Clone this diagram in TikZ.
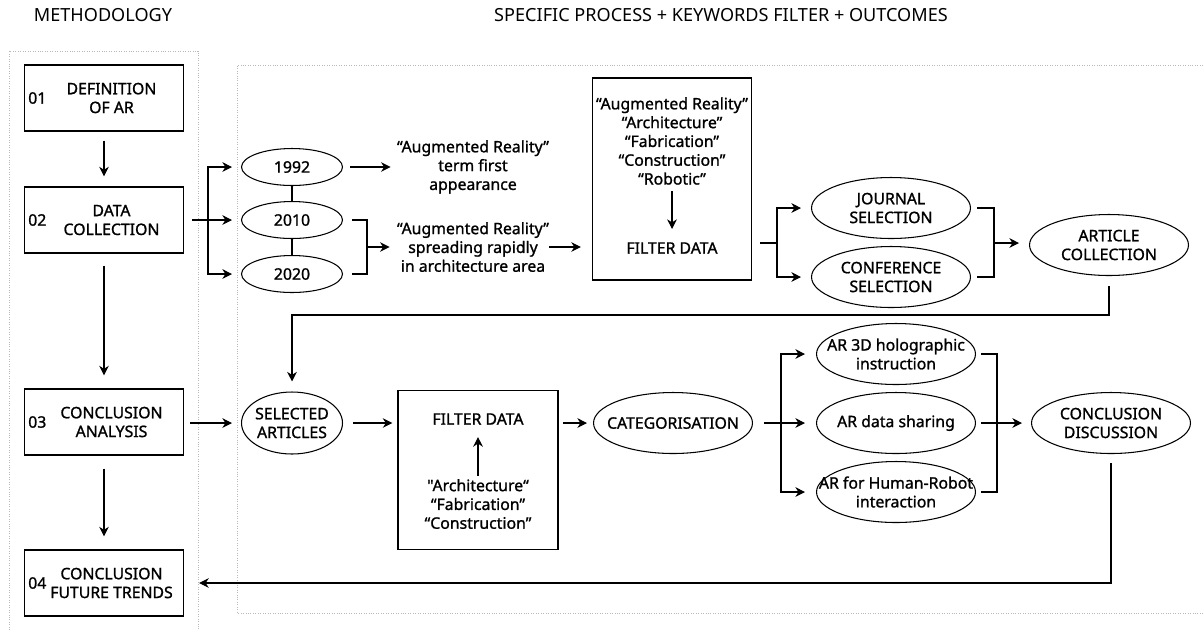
\documentclass[tikz,border=0pt]{standalone}
\usepackage{fontspec}
\setmainfont{Noto Sans}
\newfontfamily\labelfont{Noto Sans}[FakeBold=1.2]
\usetikzlibrary{calc, arrows.meta, shapes.geometric}

\tikzset{
  stepbox/.style={draw, line width=0.7pt, minimum width=3.18cm, minimum height=1.32cm, inner sep=0pt},
  oval/.style={draw, ellipse, line width=0.6pt, minimum width=3.18cm, minimum height=1.22cm, inner sep=0pt},
  yearoval/.style={oval, minimum width=2.02cm, minimum height=0.74cm},
  txt/.style={align=center, inner sep=0pt, font=\labelfont\fontsize{9}{10.7}\selectfont},
  boxtxt/.style={txt, xshift=0.15cm},
  headline/.style={inner sep=0pt, font=\fontsize{10.3}{12}\selectfont},
  frame/.style={gray!55, densely dotted, line width=0.4pt},
  arr/.style={line width=0.6pt, -{Stealth[length=5.5pt,width=5.5pt]}},
  twoarr/.style={line width=0.6pt, {Stealth[length=5.5pt,width=5.5pt]}-{Stealth[length=5.5pt,width=5.5pt]}},
  plain/.style={line width=0.6pt},
}

\begin{document}
\begin{tikzpicture}[x=0.02cm, y=-0.02cm]
    \useasboundingbox (0,0) rectangle (1203,630);

    % titoli
    \node[headline] (ttl1) at (103,15) {METHODOLOGY};
    \node[headline] (ttl2) at (721,15) {SPECIFIC PROCESS + KEYWORDS FILTER + OUTCOMES};

    % cornici
    \draw[frame] (9,630) -- (9,51) -- (198,51) -- (198,630);
    \draw[frame] (1203,65) -- (237,65) -- (237,613) -- (1203,613);

    % metodologia
    \node[stepbox, label={[boxtxt]center:DEFINITION\\OF AR}] (s1) at (104,98) {};
    \node[stepbox, label={[boxtxt]center:DATA\\COLLECTION}] (s2) at (104,220) {};
    \node[stepbox, label={[boxtxt]center:CONCLUSION\\ANALYSIS}] (s3) at (104,422) {};
    \node[stepbox, label={[boxtxt]center:CONCLUSION\\FUTURE TRENDS}] (s4) at (104,583) {};
    \node[txt, anchor=west] (n1) at ([xshift=0.08cm]s1.west) {01};
    \node[txt, anchor=west] (n2) at ([xshift=0.08cm]s2.west) {02};
    \node[txt, anchor=west] (n3) at ([xshift=0.08cm]s3.west) {03};
    \node[txt, anchor=west] (n4) at ([xshift=0.08cm]s4.west) {04};

    \draw[arr, shorten <=0.18cm, shorten >=0.2cm] (s1) -- (s2);
    \draw[arr, shorten <=0.24cm, shorten >=0.26cm] (s2) -- (s3);
    \draw[arr, shorten <=0.26cm, shorten >=0.26cm] (s3) -- (s4);

    % anni
    \node[yearoval, label={[txt]center:1992}] (y1992) at (292,167) {};
    \node[yearoval, label={[txt]center:2010}] (y2010) at (292,220) {};
    \node[yearoval, label={[txt]center:2020}] (y2020) at (292,274) {};
    \coordinate (br1) at (208,220);
    \coordinate (br2) at (367,247);

    \draw[plain] (y1992) -- (y2010);
    \draw[plain] (y2010) -- (y2020);
    \draw[arr, shorten <=0.16cm, shorten >=0.18cm] (s2.east) -- (y2010.west);
    \draw[twoarr, shorten <=0.18cm, shorten >=0.18cm] (y1992.west) -| (br1) |- (y2020.west);

    \node[txt] (t1) at (473,167) {“Augmented Reality”\\term first\\appearance};
    \node[txt] (t2) at (473,247) {“Augmented Reality”\\spreading rapidly\\in architecture area};

    \draw[arr, shorten <=0.14cm, shorten >=0.12cm] (y1992.east) -- (y1992.east -| t1.west);
    \draw[plain, shorten <=0.18cm, shorten >=0.18cm] (y2010.east) -| (br2) |- (y2020.east);
    \draw[arr, shorten >=0.14cm] (br2) -- (br2 -| t2.west);

    % primo filtro
    \node[draw, line width=0.7pt, minimum width=3.18cm, minimum height=4.04cm] (f1) at (672,179) {};
    \node[txt] (kw1) at (672,141) {“Augmented Reality”\\“Architecture”\\“Fabrication”\\“Construction”\\“Robotic”};
    \node[txt] (fd1) at (672,248) {FILTER DATA};
    \draw[arr, shorten <=0.12cm, shorten >=0.26cm] (kw1) -- (fd1);
    \draw[arr, shorten >=0.22cm] (t2.east) -- (t2.east -| f1.west);

    % selezione
    \node[oval, label={[txt]center:JOURNAL\\SELECTION}] (jour) at (891,208) {};
    \node[oval, label={[txt]center:CONFERENCE\\SELECTION}] (conf) at (891,277) {};
    \node[oval, label={[txt]center:ARTICLE\\COLLECTION}] (art) at (1109,245) {};
    \coordinate (br3) at (777,243);
    \coordinate (br4) at (994,243);
    \coordinate (rt) at (0,315);

    \draw[plain, shorten <=0.16cm] (f1.east |- br3) -- (br3);
    \draw[twoarr, shorten <=0.2cm, shorten >=0.2cm] (jour.west) -| (br3) |- (conf.west);
    \draw[plain, shorten <=0.12cm, shorten >=0.12cm] (jour.east) -| (br4) |- (conf.east);
    \draw[arr, shorten >=0.2cm] (br4) -- (br4 -| art.west);

    % seconda riga
    \node[oval, minimum width=2.02cm, minimum height=1.24cm, label={[txt]center:SELECTED\\ARTICLES}] (sel) at (292,423) {};
    \draw[arr, shorten <=0.2cm, shorten >=0.2cm] (art.south) -- (art.south |- rt) -| (sel.north);
    \draw[arr, shorten <=0.12cm, shorten >=0.18cm] (s3.east |- sel) -- (sel.west);

    \node[draw, line width=0.7pt, minimum width=3.2cm, minimum height=3.18cm] (f2) at (478,470) {};
    \node[txt] (fd2) at (478,419) {FILTER DATA};
    \node[txt] (kw2) at (478,504) {"Architecture“\\“Fabrication”\\“Construction”};
    \draw[arr, shorten <=0.06cm, shorten >=0.24cm] (kw2) -- (fd2);
    \draw[arr, shorten <=0.2cm, shorten >=0.1cm] (sel.east) -- (sel.east -| f2.west);

    \node[oval, label={[txt]center:CATEGORISATION}] (cat) at (673,423) {};
    \draw[arr, shorten <=0.08cm, shorten >=0.12cm] (f2.east |- cat) -- (cat.west);

    % categorie
    \node[oval, label={[txt]center:AR 3D holographic\\instruction}] (holo) at (896,354) {};
    \node[oval, label={[txt]center:AR data sharing}] (share) at (896,423) {};
    \node[oval, label={[txt]center:AR for Human-Robot\\interaction}] (hri) at (896,492) {};
    \node[oval, label={[txt]center:CONCLUSION\\DISCUSSION}] (concl) at (1111,423) {};
    \coordinate (br5) at (781,423);
    \coordinate (br6) at (997,423);

    \draw[arr, shorten <=0.22cm, shorten >=0.22cm] (cat.east) -- (share.west);
    \draw[twoarr, shorten <=0.22cm, shorten >=0.22cm] (holo.west) -| (br5) |- (hri.west);
    \draw[plain, shorten <=0.1cm, shorten >=0.1cm] (holo.east) -| (br6) |- (hri.east);
    \draw[arr, shorten <=0.1cm, shorten >=0.18cm] (share.east) -- (concl.west);

    % ritorno
    \draw[arr, shorten <=0.18cm, shorten >=0.3cm] (concl.south) |- (s4.east);
\end{tikzpicture}
\end{document}
